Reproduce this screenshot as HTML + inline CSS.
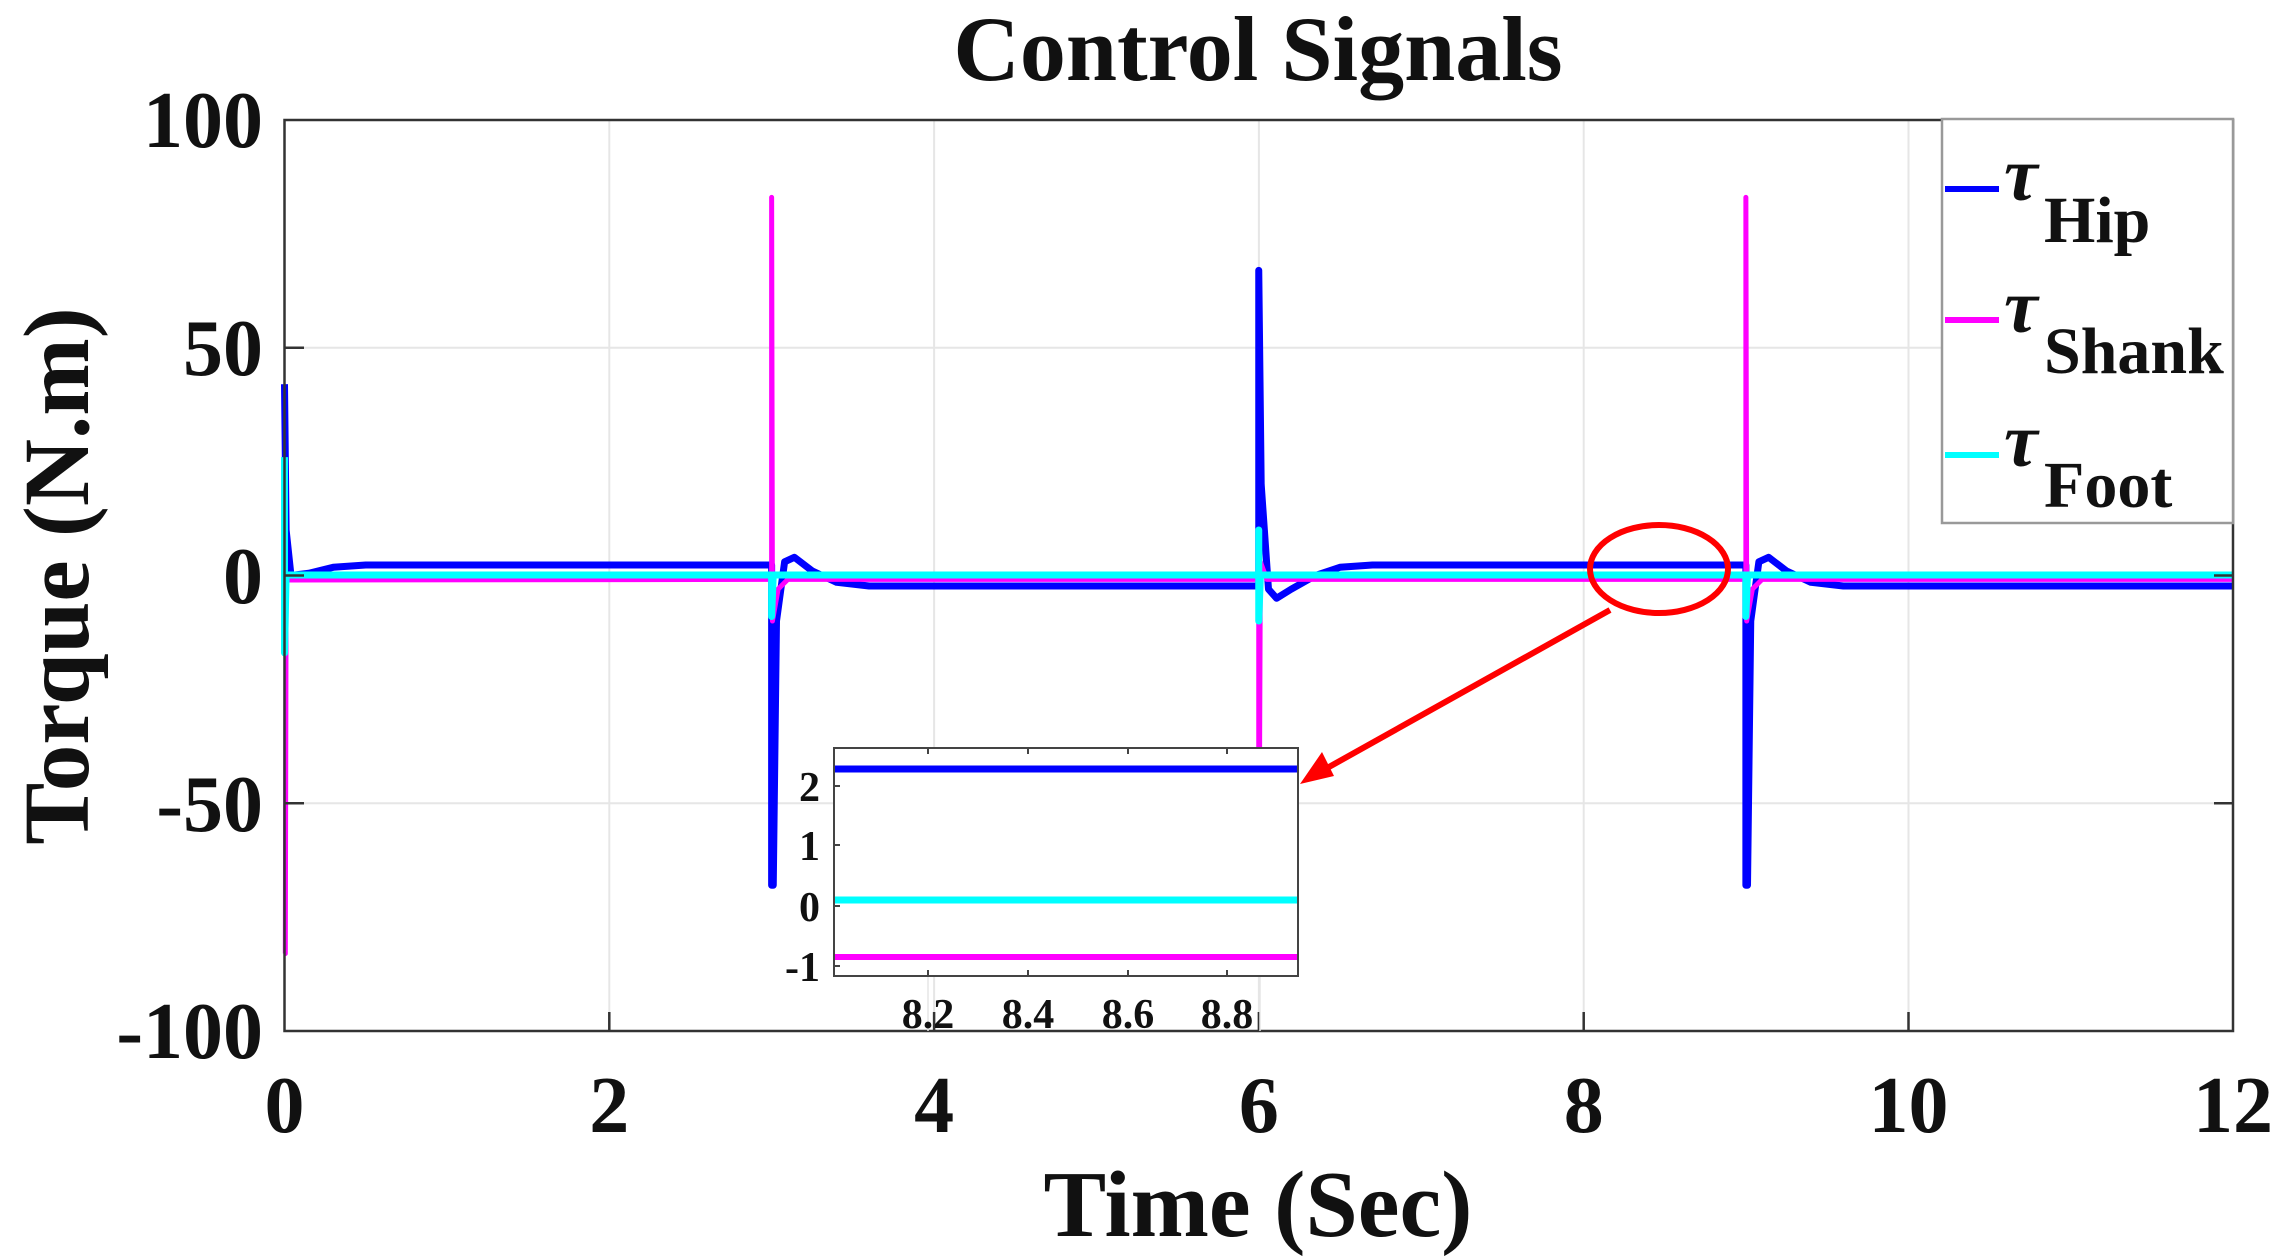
<!DOCTYPE html>
<html><head><style>
html,body{margin:0;padding:0;background:#fff;}
svg{display:block;}
text{font-family:"Liberation Serif",serif;font-weight:bold;fill:#111;}
</style></head><body>
<svg width="2288" height="1260" viewBox="0 0 2288 1260" xmlns="http://www.w3.org/2000/svg">
<rect width="2288" height="1260" fill="#fff"/>
<text x="1258" y="80" font-size="92" text-anchor="middle">Control Signals</text>
<g stroke="#e6e6e6" stroke-width="2">
<line x1="609.3" y1="120" x2="609.3" y2="1031"/><line x1="934.1" y1="120" x2="934.1" y2="1031"/>
<line x1="1258.9" y1="120" x2="1258.9" y2="1031"/><line x1="1583.7" y1="120" x2="1583.7" y2="1031"/>
<line x1="1908.5" y1="120" x2="1908.5" y2="1031"/>
<line x1="284.5" y1="347.8" x2="2233" y2="347.8"/><line x1="284.5" y1="575.5" x2="2233" y2="575.5"/>
<line x1="284.5" y1="803.3" x2="2233" y2="803.3"/>
</g>
<g transform="translate(284.5,575.5) scale(162.375,-4.555)" fill="none" stroke-linejoin="round">
<path vector-effect="non-scaling-stroke" stroke="#0000ff" stroke-width="7" d="M0,42 L0.01,10 L0.04,0 L0.15,0.5 L0.3,1.8 L0.5,2.3 L3,2.3 L3,-68 L3.01,-68 L3.03,-10 L3.08,3 L3.14,4 L3.25,1 L3.4,-1.5 L3.6,-2.3 L6,-2.3 L6,67 L6.015,20 L6.06,-3 L6.11,-5 L6.2,-3 L6.35,0 L6.5,1.8 L6.7,2.3 L9,2.3 L9,-68 L9.01,-68 L9.03,-10 L9.08,3 L9.14,4 L9.25,1 L9.4,-1.5 L9.6,-2.3 L12,-2.3"/>
<path vector-effect="non-scaling-stroke" stroke="#ff00ff" stroke-width="5" d="M0,-83 L0.005,-83 L0.01,-1 L3,-0.85 L3,83 L3.005,-10 L3.04,-3 L3.1,-0.85 L6,-0.85 L6,-83 L6.01,3 L6.05,-0.85 L9,-0.85 L9,83 L9.005,-10 L9.04,-3 L9.1,-0.85 L12,-0.85"/>
<path vector-effect="non-scaling-stroke" stroke="#00ffff" stroke-width="7" d="M0,26 L0,-17 L0.01,0.1 L3,0.1 L3,-9 L3.01,0.1 L6,0.1 L6,10 L6,-10 L6.01,0.1 L9,0.1 L9,-9 L9.01,0.1 L12,0.1"/>
</g>
<rect x="284.5" y="120" width="1948.5" height="911" fill="none" stroke="#333" stroke-width="2.5"/>
<g stroke="#333" stroke-width="2.5">
<line x1="609.3" y1="1031" x2="609.3" y2="1012"/><line x1="934.1" y1="1031" x2="934.1" y2="1012"/><line x1="1258.9" y1="1031" x2="1258.9" y2="1012"/><line x1="1583.7" y1="1031" x2="1583.7" y2="1012"/><line x1="1908.5" y1="1031" x2="1908.5" y2="1012"/>
<line x1="284.5" y1="347.8" x2="304" y2="347.8"/><line x1="284.5" y1="575.5" x2="304" y2="575.5"/><line x1="284.5" y1="803.3" x2="304" y2="803.3"/>
<line x1="2233" y1="347.8" x2="2214" y2="347.8"/><line x1="2233" y1="575.5" x2="2214" y2="575.5"/><line x1="2233" y1="803.3" x2="2214" y2="803.3"/>
</g>
<g font-size="80" text-anchor="end">
<text x="263" y="147">100</text><text x="263" y="375">50</text><text x="263" y="603">0</text><text x="263" y="831">-50</text><text x="263" y="1058">-100</text>
</g>
<g font-size="80" text-anchor="middle">
<text x="284.5" y="1132">0</text><text x="609.3" y="1132">2</text><text x="934.1" y="1132">4</text><text x="1258.9" y="1132">6</text><text x="1583.7" y="1132">8</text><text x="1908.5" y="1132">10</text><text x="2233" y="1132">12</text>
</g>
<text x="1258" y="1236" font-size="94" text-anchor="middle">Time (Sec)</text>
<text transform="translate(88,576) rotate(-90)" font-size="93" text-anchor="middle">Torque (N.m)</text>
<rect x="1942" y="119" width="291" height="404" fill="#fff" stroke="#999" stroke-width="2.5"/>
<line x1="1945" y1="189" x2="1999" y2="189" stroke="#0000ff" stroke-width="6"/>
<line x1="1945" y1="320" x2="1999" y2="320" stroke="#ff00ff" stroke-width="6"/>
<line x1="1945" y1="455" x2="1999" y2="455" stroke="#00ffff" stroke-width="6"/>
<g font-size="76" font-style="italic"><text x="2004" y="200">τ</text><text x="2004" y="332">τ</text><text x="2004" y="466">τ</text></g>
<g font-size="66"><text x="2044" y="242">Hip</text><text x="2044" y="373">Shank</text><text x="2044" y="507">Foot</text></g>
<ellipse cx="1659" cy="569" rx="69" ry="44" fill="none" stroke="#ff0000" stroke-width="6"/>
<line x1="1610" y1="610" x2="1320" y2="772" stroke="#ff0000" stroke-width="6"/>
<polygon points="1300,784 1322,752 1334,776" fill="#ff0000"/>
<rect x="834" y="748" width="464" height="228" fill="#fff"/>
<g stroke="#e6e6e6" stroke-width="1.5"><line x1="928" y1="976" x2="928" y2="1031"/><line x1="1260" y1="976" x2="1260" y2="1031"/></g>
<line x1="834" y1="769" x2="1298" y2="769" stroke="#0000ff" stroke-width="7"/>
<line x1="834" y1="900" x2="1298" y2="900" stroke="#00ffff" stroke-width="7"/>
<line x1="834" y1="957" x2="1298" y2="957" stroke="#ff00ff" stroke-width="6"/>
<rect x="834" y="748" width="464" height="228" fill="none" stroke="#444" stroke-width="2"/>
<g stroke="#444" stroke-width="2">
<line x1="928" y1="748" x2="928" y2="754"/><line x1="1028" y1="748" x2="1028" y2="754"/><line x1="1128" y1="748" x2="1128" y2="754"/><line x1="1227" y1="748" x2="1227" y2="754"/>
<line x1="928" y1="976" x2="928" y2="970"/><line x1="1028" y1="976" x2="1028" y2="970"/><line x1="1128" y1="976" x2="1128" y2="970"/><line x1="1227" y1="976" x2="1227" y2="970"/>
<line x1="834" y1="786" x2="840" y2="786"/><line x1="834" y1="845" x2="840" y2="845"/><line x1="834" y1="906" x2="840" y2="906"/><line x1="834" y1="966" x2="840" y2="966"/>
</g>
<g font-size="42" text-anchor="end"><text x="820" y="801">2</text><text x="820" y="860">1</text><text x="820" y="921">0</text><text x="820" y="981">-1</text></g>
<g font-size="42" text-anchor="middle"><text x="928" y="1028">8.2</text><text x="1028" y="1028">8.4</text><text x="1128" y="1028">8.6</text><text x="1227" y="1028">8.8</text></g>
</svg>
</body></html>
